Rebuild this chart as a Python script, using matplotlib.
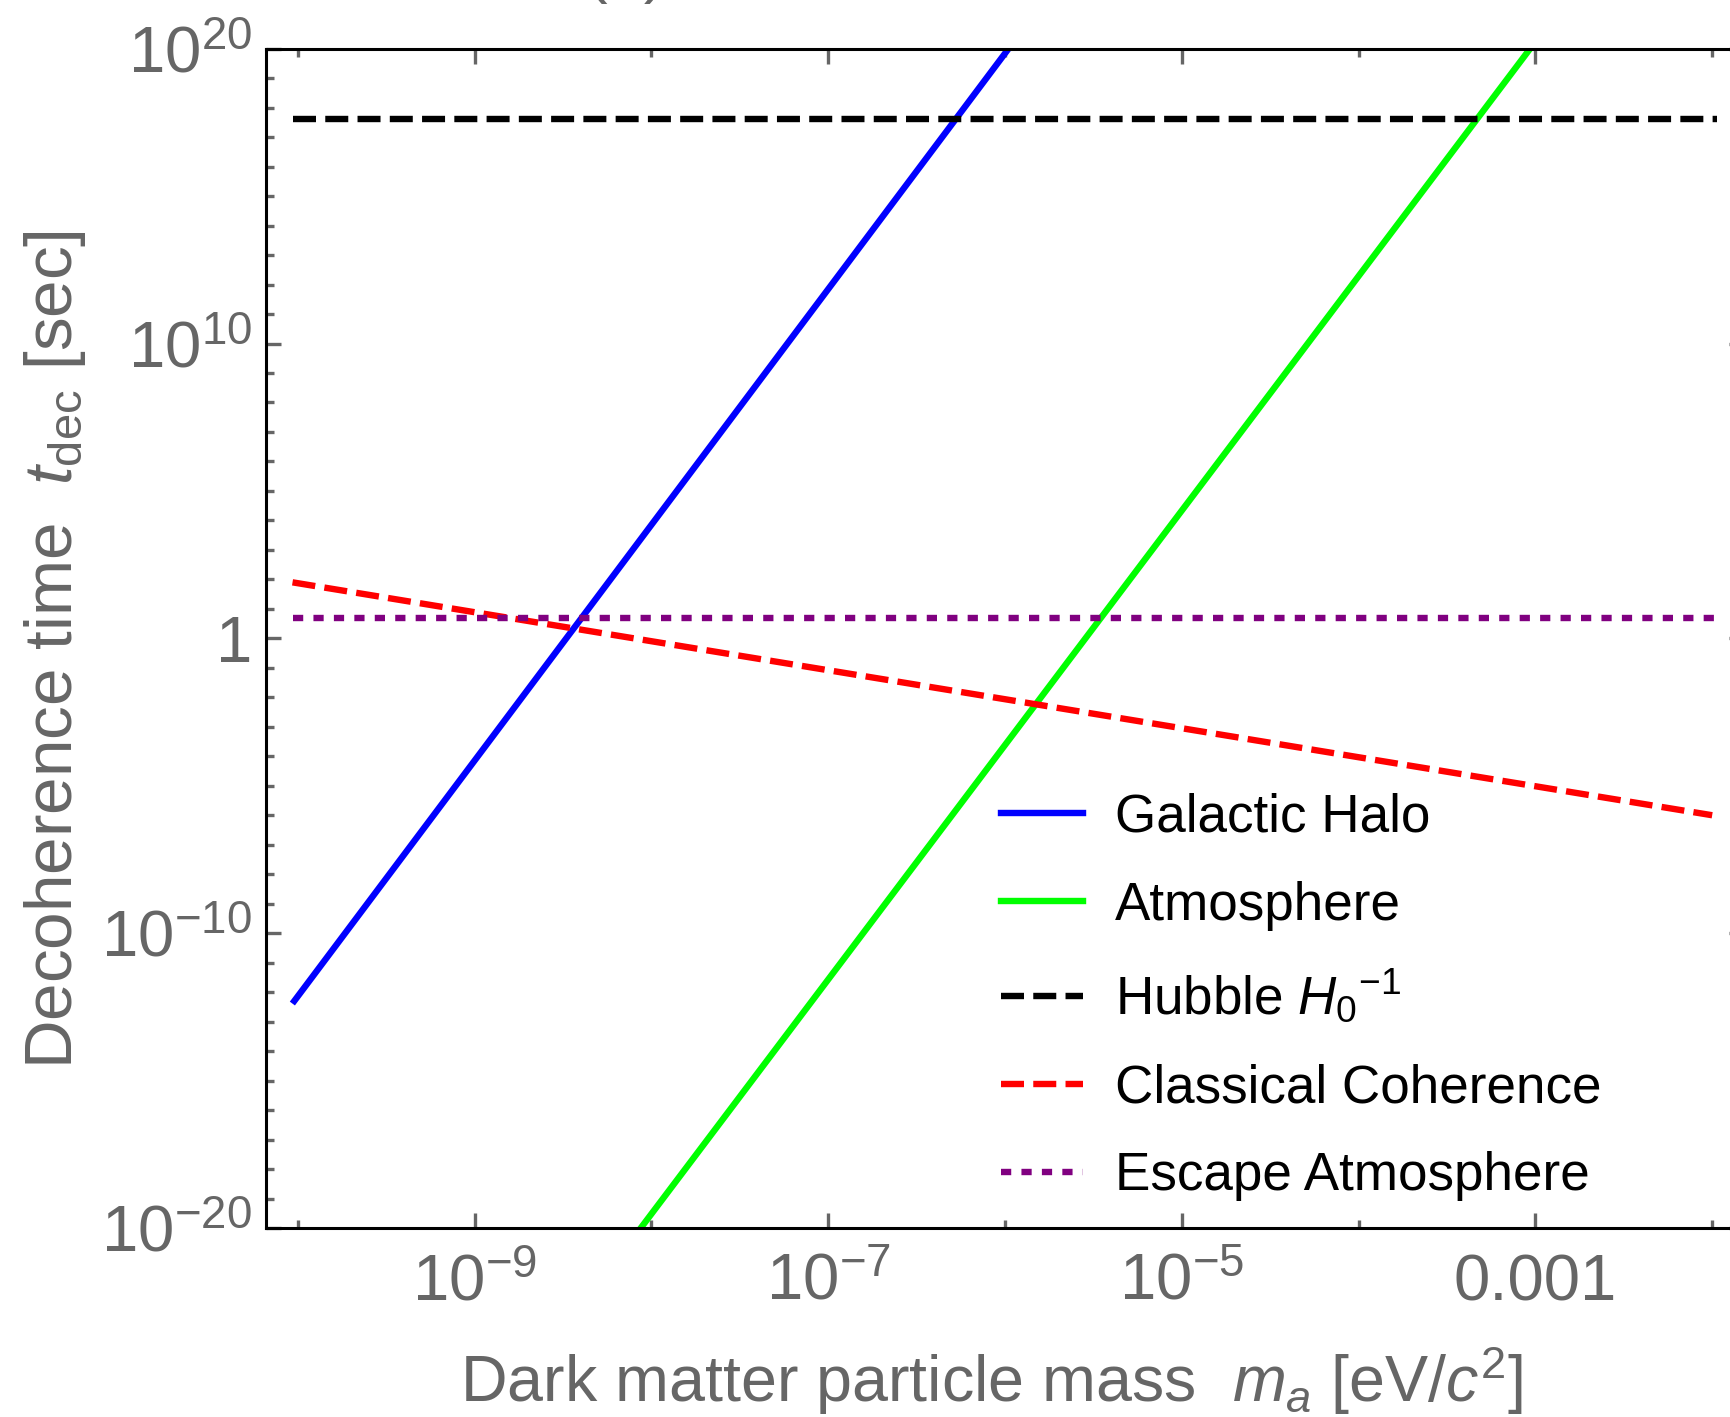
import numpy as np
import matplotlib
matplotlib.use('Agg')
import matplotlib.pyplot as plt

plt.rcParams['font.family'] = ['Liberation Sans', 'DejaVu Sans']
plt.rcParams['mathtext.fontset'] = 'custom'
plt.rcParams['mathtext.rm'] = 'Liberation Sans'
plt.rcParams['mathtext.it'] = 'Liberation Sans:italic'
plt.rcParams['mathtext.bf'] = 'Liberation Sans:bold'

# values (mass in eV/c^2, time in seconds)
mass_span = [10**-10.03, 10**-1.97]
halo_mass = [10**-10.02, 10**-5.98]
halo_time = [10**-12.3, 1e20]
atmos_mass = [10**-8.06, 10**-3.03]
atmos_time = [1e-20, 1e20]
hubble_time = [10**17.6, 10**17.6]
classical_mass = [10**-10.03, 10**-2.0]
classical_time = [10**1.9, 10**-6.0]
escape_time = [10**0.69, 10**0.69]

xticks_major = [1e-9, 1e-7, 1e-5, 1e-3]
xtick_labels = [r'$10^{-9}$', r'$10^{-7}$', r'$10^{-5}$', '0.001']
xticks_minor = [1e-10, 1e-8, 1e-6, 1e-4, 1e-2]
yticks_major = [1e-20, 1e-10, 1, 1e10, 1e20]
ytick_labels = [r'$10^{-20}$', r'$10^{-10}$', '1', r'$10^{10}$', r'$10^{20}$']
yticks_minor = [10.0**k for k in range(-20, 21) if k % 10 != 0]

legend_labels = ['Galactic Halo', 'Atmosphere', r'Hubble $H_0{}^{-1}$',
                 'Classical Coherence', 'Escape Atmosphere']

gray = '#666666'
W, H = 1730, 1417
fig = plt.figure(figsize=(W / 100, H / 100), dpi=100)
ax = fig.add_axes([266 / W, 1 - 1228 / H, (1744 - 266) / W, (1228 - 48.7) / H])

lw = 4.6
dash = (3.6, 1.45)
dots = (1.6, 1.6)
ax.plot(halo_mass, halo_time, color='#0000ff', lw=lw, label=legend_labels[0])
ax.plot(atmos_mass, atmos_time, color='#00ff00', lw=lw, label=legend_labels[1])
ax.plot(mass_span, hubble_time, color='black', lw=lw, dashes=dash,
        dash_capstyle='butt', label=legend_labels[2])
ax.plot(classical_mass, classical_time, color='#ff0000', lw=lw, dashes=dash,
        dash_capstyle='butt', label=legend_labels[3])
ax.plot(mass_span, escape_time, color='#800080', lw=lw, dashes=dots,
        dash_capstyle='butt', label=legend_labels[4])

ax.set_xscale('log')
ax.set_yscale('log')
ax.set_xlim(10**-10.18, 10**-1.82)
ax.set_ylim(1e-20, 1e20)

ax.set_xticks(xticks_major)
ax.set_xticklabels(xtick_labels)
ax.set_xticks(xticks_minor, minor=True)
ax.set_xticklabels([], minor=True)
ax.set_yticks(yticks_major)
ax.set_yticklabels(ytick_labels)
ax.set_yticks(yticks_minor, minor=True)
ax.set_yticklabels([], minor=True)

ax.tick_params(which='both', direction='in', color=gray, width=2.4,
               top=True, right=True, labelcolor=gray, labelsize=47)
ax.tick_params(which='major', length=11)
ax.tick_params(which='minor', length=5.5)
ax.tick_params(axis='x', pad=52)
ax.tick_params(axis='y', pad=10)

for lbl in ax.get_xticklabels():
    lbl.set_va('baseline')

for sp in ax.spines.values():
    sp.set_linewidth(2.2)
    sp.set_color('black')

ax.set_xlabel(r'Dark matter particle mass  $m_a$ [eV/$c^2$]', fontsize=46.5,
              color=gray, va='baseline')
ax.xaxis.set_label_coords((992 - 266) / 1478, -(1402 - 1228) / 1179.3)
ax.set_ylabel(r'Decoherence time  $t_{\rm dec}$ [sec]', fontsize=48.5,
              color=gray, va='baseline')
ax.yaxis.set_label_coords(-(266 - 72) / 1478, 1 - (650 - 48.7) / 1179.3)

# panel label, mostly cut off by the top edge in the original
fig.text(626 / W, 1 + 9 / H, '(a)', ha='center', va='baseline',
         fontsize=47, color=gray)

ax.legend(loc='upper left', bbox_to_anchor=(1001 / W, 1 - 793 / H),
          bbox_transform=fig.transFigure, frameon=False, fontsize=38.2,
          handlelength=1.55, handletextpad=0.6, labelspacing=0.71,
          borderpad=0, borderaxespad=0)

fig.savefig('out.png', dpi=100)
